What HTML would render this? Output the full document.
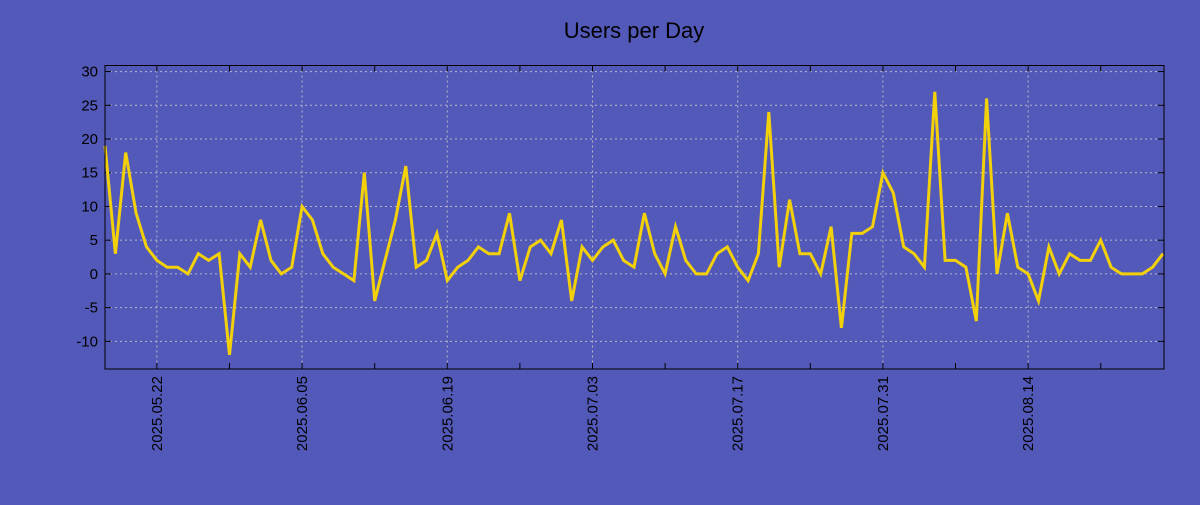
<!DOCTYPE html>
<html><head><meta charset="utf-8"><style>
html,body{margin:0;padding:0;background:#5359b9;}
svg text{font-family:"Liberation Sans","DejaVu Sans",sans-serif;}
</style></head><body>
<svg width="1200" height="500" xmlns="http://www.w3.org/2000/svg">
<rect width="1200" height="500" fill="#5359b9"/>
<text x="634" y="38" font-size="22" text-anchor="middle" fill="#000">Users per Day</text>
<g id="grid"></g>
<g id="axes"></g>
<polyline id="line" fill="none" stroke="#f2d00a" stroke-width="3" stroke-linejoin="miter"/>
<rect x="105" y="65.5" width="1059" height="303.5" fill="none" stroke="#000" stroke-width="1"/>
</svg>
<script>
const startDate = "2025-05-17";
const values = [19,3,18,9,4,2,1,1,0,3,2,3,-12,3,1,8,2,0,1,10,8,3,1,0,-1,15,-4,2,8,16,1,2,6,-1,1,2,4,3,3,9,-1,4,5,3,8,-4,4,2,4,5,2,1,9,3,0,7,2,0,0,3,4,1,-1,3,24,1,11,3,3,0,7,-8,6,6,7,15,12,4,3,1,27,2,2,1,-7,26,0,9,1,0,-4,4,0,3,2,2,5,1,0,0,0,1,3];
const yTicks = [-10,-5,0,5,10,15,20,25,30];
const xLabels = ["2025.05.22","2025.06.05","2025.06.19","2025.07.03","2025.07.17","2025.07.31","2025.08.14"];

const NS="http://www.w3.org/2000/svg";
const X0=105,X1=1164,Y0=369,Y1=65.5;
const yMin=-14.1,yMax=30.9;
const base=new Date(startDate+"T00:00:00Z").getTime();
const nDays=102.1;
function dayOf(s){return (new Date(s.replace(/\./g,"-")+"T00:00:00Z").getTime()-base)/86400000;}
function xs(d){return X0+(X1-X0)*d/nDays;}
function ys(v){return Y0-(Y0-Y1)*(v-yMin)/(yMax-yMin);}
const grid=document.getElementById("grid"),axes=document.getElementById("axes");
function mk(tag,attrs,parent){const e=document.createElementNS(NS,tag);for(const k in attrs)e.setAttribute(k,attrs[k]);parent.appendChild(e);return e;}
yTicks.forEach(t=>{
  const y=ys(t);
  const g=mk("line",{x1:X0,x2:X1,y1:y,y2:y,stroke:"#b8b8c8","stroke-width":1,"stroke-dasharray":"2,3"},grid);
  
  
  mk("line",{x1:X0,x2:X0+6,y1:y,y2:y,stroke:"#000"},axes);
  mk("line",{x1:X1-6,x2:X1,y1:y,y2:y,stroke:"#000"},axes);
  const tx=mk("text",{x:98,y:y+5,"font-size":15,"text-anchor":"end",fill:"#000"},axes);
  tx.textContent=t;
  
  
});
xLabels.forEach((lab,i)=>{
  const x=xs(dayOf(lab));
  const g=mk("line",{x1:x,x2:x,y1:Y1,y2:Y0,stroke:"#b8b8c8","stroke-width":1,"stroke-dasharray":"2,3"},grid);
  
  
  [0,7].forEach(off=>{
    const xx=xs(dayOf(lab)+off);
    if(xx<X1){
      mk("line",{x1:xx,x2:xx,y1:Y0,y2:Y0-6,stroke:"#000"},axes);
      mk("line",{x1:xx,x2:xx,y1:Y1,y2:Y1+6,stroke:"#000"},axes);
    }
  });
  const tx=mk("text",{x:0,y:0,"font-size":15,"text-anchor":"end",fill:"#000",transform:`translate(${x+5},376) rotate(-90)`},axes);
  tx.textContent=lab;
  
  
});
{
  const xx=xs(dayOf(xLabels[0])-7);
  if(xx>X0){mk("line",{x1:xx,x2:xx,y1:Y0,y2:Y0-6,stroke:"#000"},axes);}
}
document.getElementById("line").setAttribute("points",values.map((v,i)=>xs(i).toFixed(1)+","+ys(v).toFixed(1)).join(" "));
</script>
</body></html>
